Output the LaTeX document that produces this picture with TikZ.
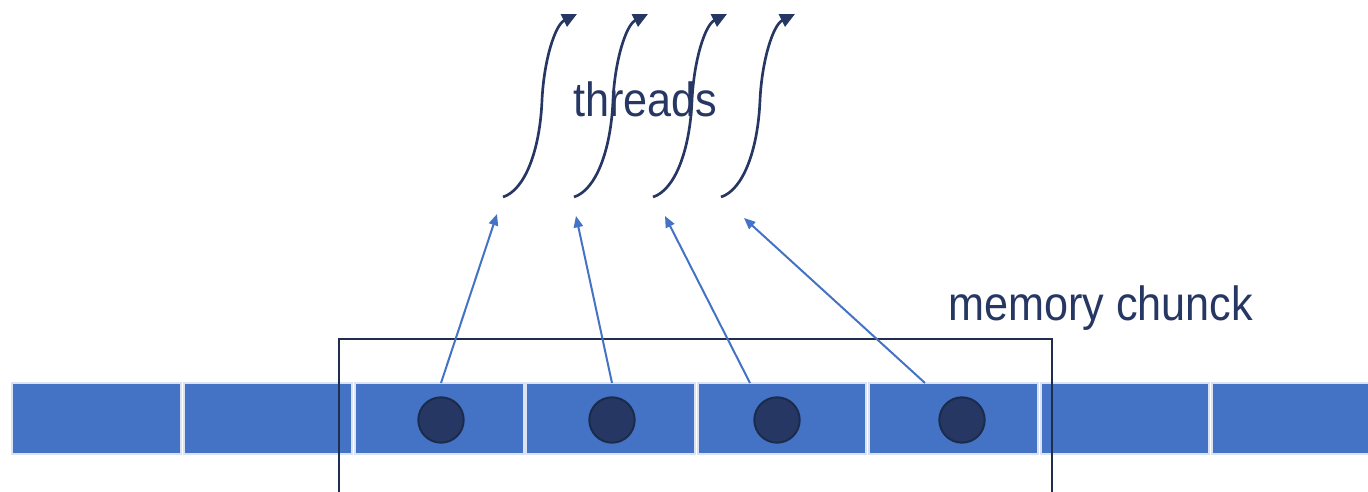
\documentclass[tikz,border=0pt]{standalone}
\usepackage{fontspec}
\setmainfont{Liberation Sans}[FakeStretch=0.9]
\usetikzlibrary{arrows.meta,calc}
\definecolor{cellblue}{HTML}{4472C4}
\definecolor{navy}{HTML}{263763}
\definecolor{navyedge}{HTML}{1B2B4C}
\definecolor{framecol}{HTML}{1F2D4F}
\begin{document}
\begin{tikzpicture}[x=0.75pt,y=-0.75pt,
  cell/.style={rectangle,fill=cellblue,draw=white!80!cellblue,line width=1.5pt,
    minimum width=126.5pt,minimum height=53pt,inner sep=0pt},
  dot/.style={circle,fill=navy,draw=navyedge,line width=1.5pt,
    minimum size=34pt,inner sep=0pt},
  feed/.style={draw=cellblue,line width=1.5pt,-{Triangle[length=8.5pt,width=7pt]}},
  thread/.style={draw=navy,line width=2pt,-{Triangle[length=11pt,width=10pt]}},
  label/.style={text=navy,font=\fontsize{36}{43}\selectfont,inner sep=0pt,anchor=base west}]
\useasboundingbox (0,0) rectangle (1368,492);

% memory cells
\foreach \i in {1,...,8}
  \node[cell] (c\i) at ({96.5+171.4*(\i-1)},418.5) {};

% data items inside the chunk
\node[dot] (k1) at (441,420) {};
\node[dot] (k2) at (612,420) {};
\node[dot] (k3) at (777,420) {};
\node[dot] (k4) at (962,420) {};

% bracket marking the memory chunk
\draw[framecol,line width=2pt] (339,492) |- (1052,339) -- (1052,492);

% threads as wavy arrows
\foreach \j/\dx in {1/0,2/71,3/150,4/218} {
  \coordinate (t\j) at ({503+\dx},197);
  \draw[thread] (t\j) .. controls +(22,-7) and +(-2,50) .. ++(39,-97)
                 .. controls +(2,-40) and +(-22,11) .. ++(35,-86);
}

% arrows from the items to the threads
\coordinate (s1) at (441,383);
\coordinate (s2) at (612,383);
\coordinate (s3) at (750,383);
\coordinate (s4) at (925,383);
\coordinate (e1) at (497,214);
\coordinate (e2) at (576,216);
\coordinate (e3) at (665,216);
\coordinate (e4) at (744,218);
\foreach \j in {1,...,4}
  \draw[feed] (s\j) -- (e\j);

% labels
\node[label] (lt) at (573,117) {threads};
\node[label] (lm) at (948,320) {memory chunck};
\end{tikzpicture}
\end{document}
